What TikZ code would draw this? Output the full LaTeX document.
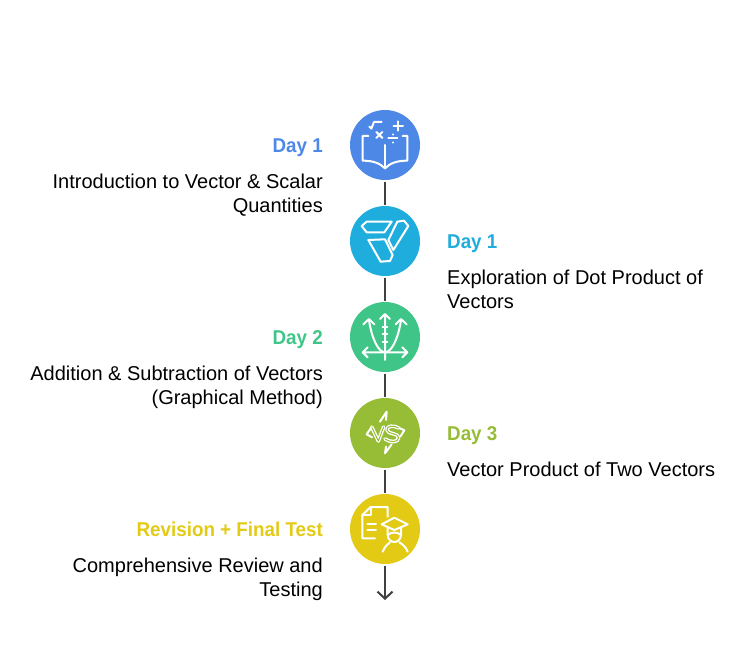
\documentclass[tikz,border=0pt]{standalone}
\usepackage{fontspec}
\setmainfont{Liberation Sans}
\newfontfamily\headfont[FakeStretch=0.94]{Liberation Sans}
\usetikzlibrary{arrows.meta}
\definecolor{cA}{HTML}{4E88E7}
\definecolor{cB}{HTML}{1FADDD}
\definecolor{cC}{HTML}{3FC587}
\definecolor{cD}{HTML}{97BC36}
\definecolor{cE}{HTML}{E2CA15}
\definecolor{ink}{HTML}{404040}
\tikzset{
  disc/.style={circle,fill=#1,minimum size=70pt,inner sep=0pt,outer sep=1.5pt},
  link/.style={draw=ink,line width=2pt},
  head/.style={font=\fontsize{20}{24}\selectfont\headfont\bfseries,text=#1,inner sep=0pt},
  body/.style={font=\fontsize{20}{24}\selectfont,text=black,inner sep=0pt},
  icon/.style={draw=white,line width=2pt,line join=round,line cap=round},
  zoomed/.style={x=0.3333pt,y=-0.3333pt}
}
\begin{document}
\begin{tikzpicture}[x=1pt,y=-1pt]
\useasboundingbox (0,0) rectangle (746,650);
\node[disc=cA] (n1) at (385,145) {};
\node[disc=cB] (n2) at (385,241) {};
\node[disc=cC] (n3) at (385,337) {};
\node[disc=cD] (n4) at (385,433) {};
\node[disc=cE] (n5) at (385,529) {};
\coordinate (end) at (385,600);
\draw[link] (n1) -- (n2);
\draw[link] (n2) -- (n3);
\draw[link] (n3) -- (n4);
\draw[link] (n4) -- (n5);
\draw[link,-{Straight Barb[length=7pt,width=15pt]}] (n5) -- (end);
% labels
\node[head=cA,anchor=base east] (h1) at (323,152) {Day 1};
\node[body,anchor=north east,align=right] (b1) at (323,174) {Introduction to Vector \& Scalar\\Quantities};
\node[head=cB,anchor=base west] (h2) at (447,248) {Day 1};
\node[body,anchor=north west,align=left] (b2) at (447,270) {Exploration of Dot Product of\\Vectors};
\node[head=cC,anchor=base east] (h3) at (323,344) {Day 2};
\node[body,anchor=north east,align=right] (b3) at (323,366) {Addition \& Subtraction of Vectors\\(Graphical Method)};
\node[head=cD,anchor=base west] (h4) at (447,440) {Day 3};
\node[body,anchor=north west,align=left] (b4) at (447,462) {Vector Product of Two Vectors};
\node[head=cE,anchor=base east] (h5) at (323,536) {Revision + Final Test};
\node[body,anchor=north east,align=right] (b5) at (323,558) {Comprehensive Review and\\Testing};
% icon 1 and 2
\begin{scope}[shift={(340,100)},zoomed,icon]
\draw (85,108)--(68,108)--(68,182) .. controls (100,182) and (120,190) .. (135,205) .. controls (150,190) and (170,182) .. (202,182) -- (202,108)--(188,108);
\draw (135,135)--(135,205);
\draw (88,80)--(94,86)--(102,66)--(125,66);
\draw (161,78)--(189,78) (175,64)--(175,92);
\draw (109,96)--(127,114) (127,96)--(109,114);
\draw (145,115)--(172,115);
\draw (158,103)--(158,104) (158,127)--(158,128);
\draw (65,378)--(80,365)--(155,365)--(133,397)--(80,397)--cycle;
\draw (172,365)--(192,362)--(205,378)--(160,450)--(145,420)--cycle;
\draw (85,420)--(135,418)--(158,465)--(150,483)--(122,485)--cycle;
\end{scope}
% icon 3 and 4
\begin{scope}[shift={(340,295)},zoomed,icon]
\draw (135,60)--(135,195) (120,72)--(135,57)--(150,72);
\draw (68,172)--(202,172) (83,157)--(68,172)--(83,187) (187,157)--(202,172)--(187,187);
\draw (87,75) .. controls (95,130) and (115,172) .. (135,172) .. controls (155,172) and (175,130) .. (183,75);
\draw (70,88)--(87,72)--(103,88) (167,88)--(183,72)--(200,88);
\draw (128,95)--(142,95) (128,118)--(142,118) (128,142)--(142,142);
% VS
\draw[line width=3.6pt] (95,396)--(115,438)--(131,396);
\draw[line width=3.6pt] (176,399) .. controls (160,390) and (140,392) .. (141,405) .. controls (142,418) and (176,414) .. (176,428) .. controls (176,444) and (148,442) .. (135,432);
\draw[cD,line width=1pt] (95,396)--(115,438)--(131,396);
\draw[cD,line width=1pt] (176,399) .. controls (160,390) and (140,392) .. (141,405) .. controls (142,418) and (176,414) .. (176,428) .. controls (176,444) and (148,442) .. (135,432);
\draw (140,350)--(120,380) (140,350)--(138,375);
\draw (135,475)--(155,448) (135,475)--(138,455);
\draw (93,399)--(80,418)--(96,427);
\draw (178,399)--(193,406)--(181,425);
\end{scope}
% icon 5
\begin{scope}[shift={(340,485)},zoomed,icon]
\draw (105,160)--(67,160)--(67,90)--(92,66)--(143,66)--(143,95);
\draw (92,66)--(92,90)--(67,90);
\draw (82,118)--(108,118) (82,135)--(108,135);
\draw (125,118)--(163,98)--(203,118)--(163,135)--cycle;
\draw (143,128)--(143,150) .. controls (145,178) and (181,178) .. (183,150)--(183,128);
\draw (143,150) .. controls (155,140) and (171,140) .. (183,150);
\draw (128,200) .. controls (135,180) and (150,174) .. (150,172) (178,172) .. controls (180,174) and (195,180) .. (203,200);
\end{scope}
\end{tikzpicture}
\end{document}
